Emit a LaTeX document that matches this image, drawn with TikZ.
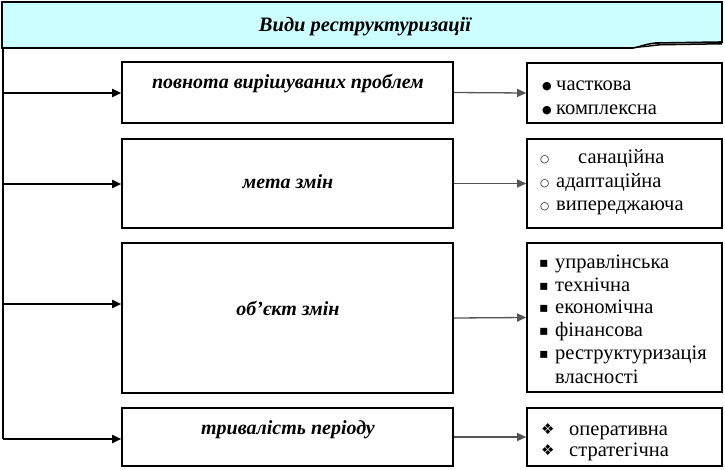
\documentclass[tikz,border=0pt]{standalone}
\usepackage{fontspec}
\setmainfont{Liberation Serif}
\newfontfamily\symfont{DejaVu Sans}
\usetikzlibrary{arrows.meta}
\definecolor{titlecyan}{HTML}{CCFFFF}
\definecolor{arrgray}{HTML}{555555}
\tikzset{
  midbox/.style={draw=black, line width=1.6pt, rectangle, minimum width=331pt, inner sep=0pt},
  rightbox/.style={draw=black, line width=1.6pt, rectangle, minimum width=195pt, inner sep=0pt},
  midtext/.style={font=\fontsize{20}{23}\selectfont\bfseries\itshape, inner sep=0pt, anchor=base},
  righttext/.style={font=\fontsize{20.5}{23}\selectfont, inner sep=0pt, anchor=base west},
  bul/.style={inner sep=0pt, anchor=base west},
  mainarrow/.style={line width=1.8pt, -{Triangle[length=9pt,width=8pt]}},
  sidearrow/.style={draw=arrgray, line width=1.3pt, -{Triangle[length=9pt,width=8pt]}, arrgray},
}
\newcommand{\dotb}{{\symfont\fontsize{11}{11}\selectfont●}}
\newcommand{\circb}{{\symfont\fontsize{10.5}{10.5}\selectfont○}}
\newcommand{\sqb}{{\symfont\fontsize{14}{14}\selectfont▪}}
\newcommand{\diab}{{\symfont\fontsize{15}{15}\selectfont❖}}
\begin{document}
\begin{tikzpicture}[x=1pt,y=-1pt]
\useasboundingbox (0,0) rectangle (725,469);
% title banner
\fill[titlecyan] (2,2) -- (722,2) -- (722,42) -- (656,43) .. controls (645,44) and (640,47) .. (633,48) -- (2,48) -- cycle;
\draw[line width=1.6pt] (633,48) -- (2,48) -- (2,2) -- (722,2) -- (722,42) -- (656,43) .. controls (645,44) and (640,47) .. (633,48);
\fill[black] (633,48) .. controls (645,46) and (650,45) .. (660,44) -- (722,43) -- (722,44.5) -- (660,45.5) .. controls (650,46.5) and (645,47.5) .. (633,48) -- cycle;
\node[inner sep=0pt, anchor=base] (title) at (365,31) {\fontsize{20.5}{24}\selectfont\bfseries\itshape Види реструктуризації};
% left spine
\coordinate (top) at (3,48);
\coordinate (l1) at (3,93);
\coordinate (l2) at (3,184);
\coordinate (l3) at (3,304);
\coordinate (l4) at (3,439);
\draw[line width=1.8pt] (top) -- (l4);
% middle boxes
\node[midbox, minimum height=61pt] (m1) at (287.5,92.5) {};
\node[midbox, minimum height=89pt] (m2) at (287.5,183.5) {};
\node[midbox, minimum height=150pt] (m3) at (287.5,318) {};
\node[midbox, minimum height=58pt] (m4) at (287.5,437) {};
\node[midtext] (t1) at (288,88) {повнота вирішуваних проблем};
\node[midtext] (t2) at (288,188) {мета змін};
\node[midtext] (t3) at (288,315) {об’єкт змін};
\node[midtext] (t4) at (288,434) {тривалість періоду};
% right boxes
\node[rightbox, minimum height=60pt] (r1) at (624.5,93) {};
\node[rightbox, minimum height=89pt] (r2) at (624.5,183.5) {};
\node[rightbox, minimum height=149pt] (r3) at (624.5,317.5) {};
\node[rightbox, minimum height=58pt] (r4) at (624.5,437) {};
% box 1
\node[bul] (b11) at (542,89) {\dotb};
\node[righttext] (a11) at (556,90) {часткова};
\node[bul] (b12) at (542,113) {\dotb};
\node[righttext] (a12) at (556,114) {комплексна};
% box 2
\node[bul] (b21) at (540,162) {\circb};
\node[righttext] (a21) at (578,163) {санаційна};
\node[bul] (b22) at (540,186) {\circb};
\node[righttext] (a22) at (556,187) {адаптаційна};
\node[bul] (b23) at (540,209) {\circb};
\node[righttext] (a23) at (556,210) {випереджаюча};
% box 3
\node[bul] (b31) at (539,267) {\sqb};
\node[righttext] (a31) at (555,268) {управлінська};
\node[bul] (b32) at (539,290) {\sqb};
\node[righttext] (a32) at (555,291) {технічна};
\node[bul] (b33) at (539,312) {\sqb};
\node[righttext] (a33) at (555,313) {економічна};
\node[bul] (b34) at (539,335) {\sqb};
\node[righttext] (a34) at (555,336) {фінансова};
\node[bul] (b35) at (539,358) {\sqb};
\node[righttext] (a35) at (555,359) {реструктуризація};
\node[righttext] (a36) at (555,383) {власності};
% box 4
\node[bul] (b41) at (541,434) {\diab};
\node[righttext] (a41) at (569,435) {оперативна};
\node[bul] (b42) at (541,455) {\diab};
\node[righttext] (a42) at (569,456) {стратегічна};
% arrows
\draw[mainarrow] (l1) -- (l1 -| m1.west);
\draw[mainarrow] (l2) -- (l2 -| m2.west);
\draw[mainarrow] (l3) -- (l3 -| m3.west);
\draw[mainarrow] (l4) -- (l4 -| m4.west);
\draw[sidearrow] (m1.east) -- (r1.west);
\draw[sidearrow] (m2.east) -- (r2.west);
\draw[sidearrow] (m3.east) -- (r3.west);
\draw[sidearrow] (m4.east) -- (r4.west);
\end{tikzpicture}
\end{document}
